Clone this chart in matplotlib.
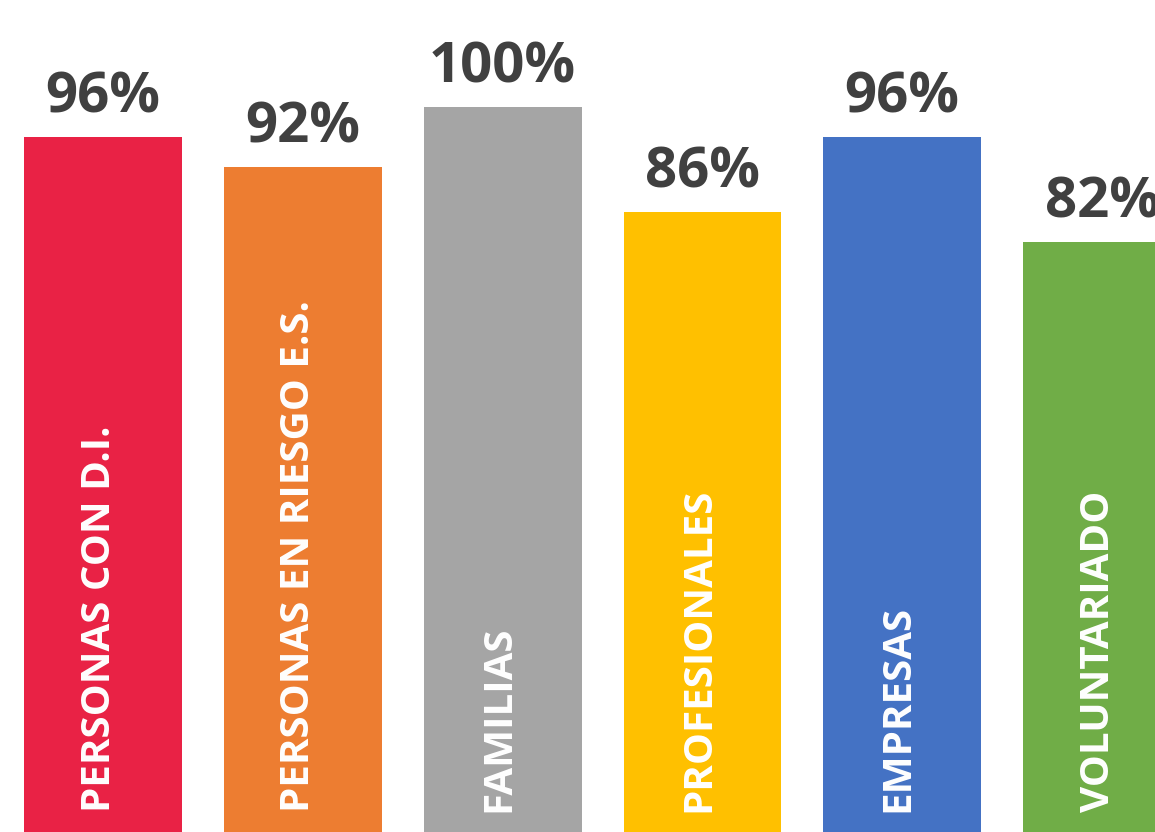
import numpy as np
import matplotlib.pyplot as plt

categories = ["PERSONAS CON D.I.", "PERSONAS EN RIESGO E.S.", "FAMILIAS",
              "PROFESIONALES", "EMPRESAS", "VOLUNTARIADO"]
values = [96, 92, 100, 86, 96, 82]
colors = ["#E92245", "#ED7D31", "#A5A5A5", "#FFC000", "#4472C4", "#70AD47"]

plt.rcParams['font.family'] = ['Open Sans', 'DejaVu Sans']

fig = plt.figure(figsize=(11.55, 8.32), dpi=100)
ax = fig.add_axes([0, 0, 1, 1])

x = np.arange(len(categories))
bars = ax.bar(x, values, width=0.79, color=colors)

for i in range(len(categories)):
    # percentage above the bar
    ax.text(x[i], values[i] + 3.3, "%d%%" % values[i], ha="center", va="baseline",
            fontsize=40.5, fontweight="bold", color="#404040")
    # category name inside the bar, bottom to top
    ax.text(x[i] - 0.02, 6.0, categories[i], rotation=90, ha="center", va="bottom",
            fontsize=29, fontweight="bold", color="white")

ax.set_xlim(-0.5155, 5.265)
ax.set_ylim(3.33, 114.27)
ax.axis("off")

fig.savefig("out.png", dpi=100)
